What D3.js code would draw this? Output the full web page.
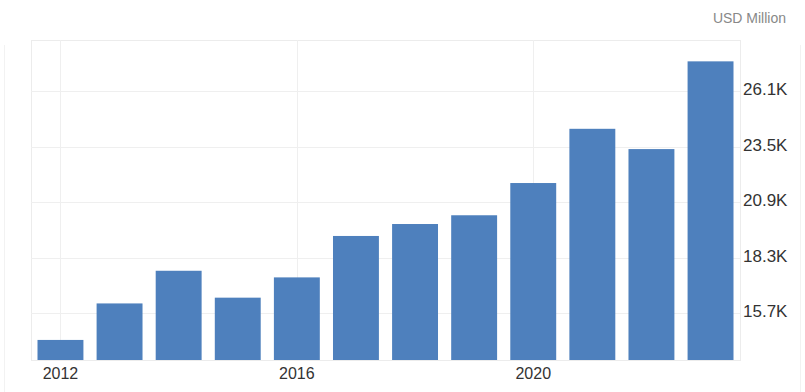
<!DOCTYPE html>
<html>
<head>
<meta charset="utf-8">
<script src="https://cdn.jsdelivr.net/npm/d3@7"></script>
<style>
html,body{margin:0;padding:0;background:#fff;}
svg{display:block;font-family:"Liberation Sans",Arial,sans-serif;}
</style>
</head>
<body>
<svg id="chart" width="805" height="392"></svg>
<script>
const years = ["2012","2013","2014","2015","2016","2017","2018","2019","2020","2021","2022","2023"];
const values = [14440,16150,17680,16420,17370,19310,19870,20280,21790,24330,23380,27490];
const tickValues = [15700,18300,20900,23500,26100];
const tickLabels = ["15.7K","18.3K","20.9K","23.5K","26.1K"];
const xTickYears = ["2012","2016","2020"];
const unitLabel = "USD Million";

const svg = d3.select("#chart");
const plot = {left:31, right:740, top:40, bottom:360};

const x = d3.scaleBand().domain(years).range([plot.left, plot.right]).paddingInner(0.223).paddingOuter(0.11);
const y = d3.scaleLinear().domain([13500, 28490]).range([plot.bottom, plot.top]);

// outer card edges
svg.append("line").attr("x1",4.5).attr("x2",4.5).attr("y1",45).attr("y2",392).attr("stroke","#f2f2f2");
svg.append("line").attr("x1",800.5).attr("x2",800.5).attr("y1",45).attr("y2",392).attr("stroke","#f2f2f2");

// plot frame
svg.append("rect").attr("x",plot.left+0.5).attr("y",plot.top+0.5)
  .attr("width",plot.right-plot.left).attr("height",plot.bottom-plot.top)
  .attr("fill","none").attr("stroke","#ececec");

// horizontal grid
svg.append("g").selectAll("line").data(tickValues).join("line")
  .attr("x1",plot.left).attr("x2",plot.right)
  .attr("y1",d=>Math.round(y(d))+0.5).attr("y2",d=>Math.round(y(d))+0.5)
  .attr("stroke","#efefef");

// vertical grid
svg.append("g").selectAll("line").data(xTickYears).join("line")
  .attr("x1",d=>Math.round(x(d)+x.bandwidth()/2)+0.5).attr("x2",d=>Math.round(x(d)+x.bandwidth()/2)+0.5)
  .attr("y1",plot.top).attr("y2",plot.bottom)
  .attr("stroke","#efefef");

// bars
svg.append("g").selectAll("rect").data(years).join("rect")
  .attr("x",d=>x(d)).attr("width",x.bandwidth())
  .attr("y",(d,i)=>y(values[i])).attr("height",(d,i)=>plot.bottom-y(values[i]))
  .attr("fill","#4e80bd");

// y axis (right)
const yAxis = d3.axisRight(y).tickValues(tickValues).tickFormat((d,i)=>tickLabels[i]).tickSize(0).tickPadding(0);
const gy = svg.append("g").attr("transform",`translate(${plot.right+3},0)`).call(yAxis);
gy.select(".domain").remove();
gy.selectAll("text").attr("font-size",17).attr("fill","#333").attr("font-family","Liberation Sans, Arial, sans-serif").attr("dy","0.22em");

// x axis
const xAxis = d3.axisBottom(x).tickValues(xTickYears).tickSize(0).tickPadding(0);
const gx = svg.append("g").attr("transform",`translate(0,${plot.bottom+5})`).call(xAxis);
gx.select(".domain").remove();
gx.selectAll("text").attr("font-size",16).attr("fill","#333").attr("font-family","Liberation Sans, Arial, sans-serif").attr("dy","0.85em");

// unit label
svg.append("text").attr("x",786).attr("y",23).attr("text-anchor","end")
  .attr("font-size",14).attr("fill","#888").text(unitLabel);
</script>
</body>
</html>
